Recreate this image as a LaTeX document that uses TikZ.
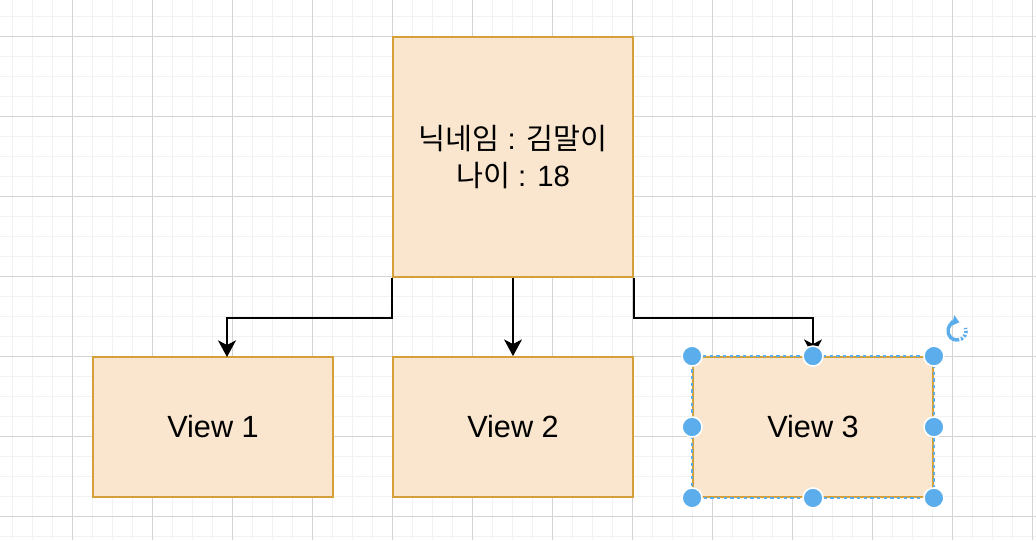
\documentclass[tikz,border=0pt]{standalone}
\usepackage{fontspec}
\setmainfont{Liberation Sans}
\newfontfamily\krfont{Noto Sans CJK KR}
\usetikzlibrary{arrows.meta}
\definecolor{boxfill}{RGB}{250,230,206}
\definecolor{boxline}{RGB}{213,160,55}
\definecolor{gridminor}{RGB}{242,242,242}
\definecolor{gridmajor}{RGB}{212,212,212}
\definecolor{selblue}{RGB}{91,174,235}
\tikzset{
  box/.style={draw=boxline, fill=boxfill, line width=1.4pt, inner sep=0pt},
  viewbox/.style={box, minimum width=180pt, minimum height=105pt, font=\fontsize{23}{27}\selectfont},
  edge/.style={draw=black, line width=1.1pt, -{Stealth[length=12.5pt,width=13.5pt,inset=3.5pt]}},
  handle/.style={circle, fill=selblue, draw=white, line width=1.2pt, minimum size=15pt, inner sep=0pt},
  minorline/.style={gridminor, line width=1pt},
  majorline/.style={gridmajor, line width=0.75pt},
}
\begin{document}
\begin{tikzpicture}[x=0.75pt,y=-0.75pt]
\useasboundingbox (0,0) rectangle (1036,540);
\fill[white] (0,0) rectangle (1036,540);
% grid
\foreach \i in {12.5,32.5,...,1036} \draw[minorline] (\i,0) -- (\i,540);
\foreach \j in {16.5,36.5,...,540} \draw[minorline] (0,\j) -- (1036,\j);
\foreach \i in {72.5,152.5,...,1036} \draw[majorline] (\i,0) -- (\i,540);
\foreach \j in {36.5,116.5,...,540} \draw[majorline] (0,\j) -- (1036,\j);
% nodes
\node[box, minimum width=180pt, minimum height=180pt, align=center,
      font=\fontsize{22}{28}\selectfont] (top) at (513,157)
      {{\krfont 닉네임} : {\krfont 김말이}\\{\krfont 나이} : 18};
\node[viewbox] (v1) at (213,427) {View 1};
\node[viewbox] (v2) at (513,427) {View 2};
\node[viewbox] (v3) at (813,427) {View 3};
\coordinate (a1) at (227,357);
% edges
\draw[edge] (top.south west) -- ++(0,40) -| (a1);
\draw[edge] (top.south) -- (v2.north);
\draw[edge] (top.south east) -- ++(0,40) -| (v3.north);
% selection
\draw[selblue, line width=1.2pt, dash pattern=on 2.5pt off 2.5pt] (v3.north west) rectangle (v3.south east);
\node[handle] (h1) at (v3.north west) {};
\node[handle] (h2) at (v3.north) {};
\node[handle] (h3) at (v3.north east) {};
\node[handle] (h4) at (v3.west) {};
\node[handle] (h5) at (v3.east) {};
\node[handle] (h6) at (v3.south west) {};
\node[handle] (h7) at (v3.south) {};
\node[handle] (h8) at (v3.south east) {};
% rotate icon
\begin{scope}[shift={(957,331)}, y=0.75pt]
  \draw[selblue, line width=2.6pt, {Triangle[length=5pt,width=8pt]}-] (75:6.8pt) arc[start angle=75, end angle=270, radius=6.8pt];
  \draw[selblue, line width=2.6pt, dash pattern=on 1.7pt off 1.3pt] (270:6.8pt) arc[start angle=270, end angle=380, radius=6.8pt];
\end{scope}
\end{tikzpicture}
\end{document}
